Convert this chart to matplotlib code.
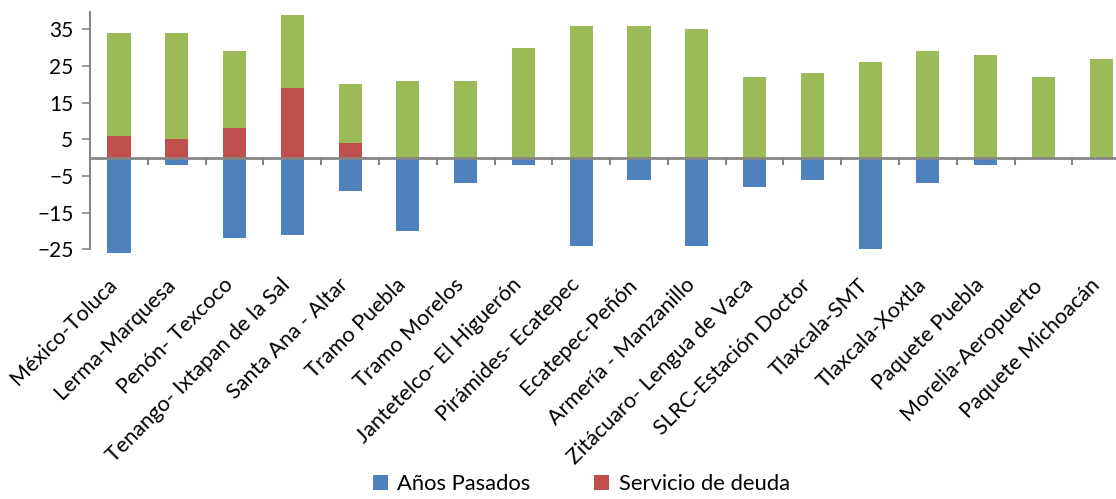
import numpy as np
import matplotlib
matplotlib.use("Agg")
import matplotlib.pyplot as plt
import matplotlib.transforms as mtransforms

plt.rcParams['font.family'] = ['Lato', 'DejaVu Sans']

# datos
tramos = ['México-Toluca', 'Lerma-Marquesa', 'Penón- Texcoco',
          'Tenango- Ixtapan de la Sal', 'Santa Ana - Altar', 'Tramo Puebla',
          'Tramo Morelos', 'Jantetelco- El Higuerón', 'Pirámides- Ecatepec',
          'Ecatepec-Peñón', 'Armería - Manzanillo', 'Zitácuaro- Lengua de Vaca',
          'SLRC-Estación Doctor', 'Tlaxcala-SMT', 'Tlaxcala-Xoxtla',
          'Paquete Puebla', 'Morelia-Aeropuerto', 'Paquete Michoacán']
anos_pasados = [-26, -2, -22, -21, -9, -20, -7, -2, -24, -6, -24, -8, -6, -25, -7, -2, 0, 0]
servicio_deuda = [6, 5, 8, 19, 4, 0, 0, 0, 0, 0, 0, 0, 0, 0, 0, 0, 0, 0]
anos_restantes = [28, 29, 21, 20, 16, 21, 21, 30, 36, 36, 35, 22, 23, 26, 29, 28, 22, 27]

azul = '#4F81BD'
rojo = '#C0504D'
verde = '#9BBB59'
gris = '#868686'

fig = plt.figure(figsize=(11.16, 4.99), dpi=100)
ax = fig.add_axes([0.0807, 0.4932, 0.932, 0.485])

x = np.arange(len(tramos))
w = 0.4
b1 = ax.bar(x, anos_pasados, w, color=azul, label='Años Pasados')
b2 = ax.bar(x, servicio_deuda, w, color=rojo, label='Servicio de deuda')
b3 = ax.bar(x, anos_restantes, w, bottom=servicio_deuda, color=verde)

ax.set_xlim(-0.5, len(tramos) - 0.5)
ax.set_ylim(-26, 40)
ax.set_yticks(np.arange(-25, 36, 10))
ax.tick_params(axis='y', labelsize=15, length=6, width=1.2, color=gris, pad=6)

for s in ['top', 'right', 'bottom']:
    ax.spines[s].set_visible(False)
ax.spines['left'].set_color(gris)
ax.spines['left'].set_linewidth(1.5)
ax.spines['left'].set_bounds(-25, 39.6)
ax.axhline(0, color=gris, lw=2, zorder=3)

# marcas entre categorias sobre el eje en cero
for xt in np.arange(0.5, len(tramos) - 0.5, 1):
    ax.plot([xt, xt], [0, -1.8], color=gris, lw=1.5, zorder=3, clip_on=False)

ax.set_xticks(x)
ax.set_xticklabels(tramos, rotation=45, ha='right', va='top',
                   rotation_mode='anchor', fontsize=15.6)
ax.tick_params(axis='x', length=0, pad=10)
desplaza = mtransforms.ScaledTranslation(-12 / 100, -8 / 100, fig.dpi_scale_trans)
for lab in ax.get_xticklabels():
    lab.set_transform(lab.get_transform() + desplaza)

fig.legend(handles=[b1, b2], loc='lower center', bbox_to_anchor=(0.521, -0.03),
           ncol=2, frameon=False, fontsize=15.8, handlelength=0.65, handleheight=0.65,
           columnspacing=2.9, handletextpad=0.45)

fig.savefig('out.png', dpi=100)
